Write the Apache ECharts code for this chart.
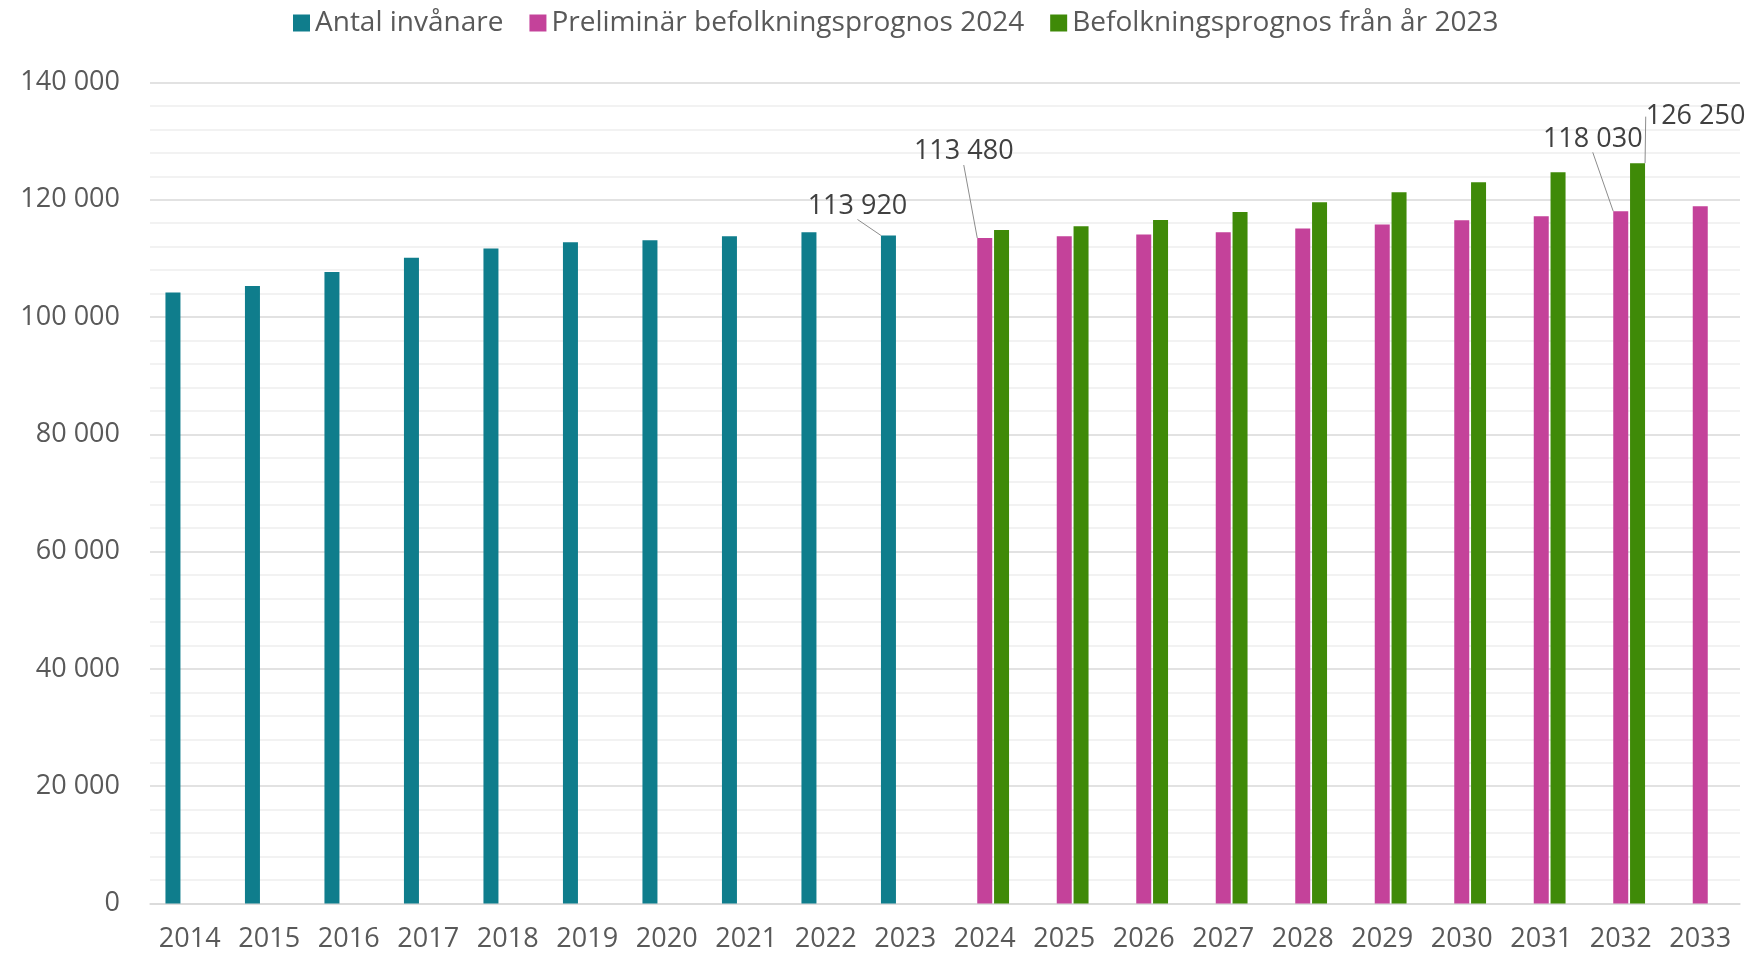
<!DOCTYPE html>
<html lang="sv">
<head>
<meta charset="utf-8">
<title>Befolkning</title>
<script src="https://cdn.jsdelivr.net/npm/echarts@6/dist/echarts.min.js"></script>
<style>
  html, body { margin: 0; padding: 0; background: #fff; }
  #chart { width: 1749px; height: 956px; }
</style>
</head>
<body>
<div id="chart"></div>
<script>
// Data
const years = ['2014', '2015', '2016', '2017', '2018', '2019', '2020', '2021', '2022', '2023',
  '2024', '2025', '2026', '2027', '2028', '2029', '2030', '2031', '2032', '2033'];
const antalInvanare = [104200, 105300, 107700, 110100, 111700, 112750, 113100, 113800, 114460, 113920,
  null, null, null, null, null, null, null, null, null, null];
const preliminar2024 = [null, null, null, null, null, null, null, null, null, null,
  113480, 113800, 114100, 114450, 115100, 115800, 116500, 117200, 118030, 118900];
const prognos2023 = [null, null, null, null, null, null, null, null, null, null,
  114850, 115500, 116550, 117900, 119600, 121300, 123000, 124700, 126250, null];
const seriesNames = ['Antal invånare', 'Preliminär befolkningsprognos 2024', 'Befolkningsprognos från år 2023'];
const yTicks = [0, 20000, 40000, 60000, 80000, 100000, 120000, 140000];

// vilka staplar som får en etikett, och hur den flyttas: [serie, index, dx, dy]
const etiketter = [
  [0, 9, -31, -11],
  [1, 10, -21, -68],
  [1, 18, -28, -54],
  [2, 18, 58, -28]
];

const FONT = '"Open Sans", "Noto Sans", sans-serif';
const farger = ['#0F7D8C', '#C4429A', '#3F8A08'];

function tusental(v) {
  return String(v).replace(/\B(?=(\d{3})+(?!\d))/g, ' ');
}

function medEtiketter(data, serie) {
  return data.map((v, i) => {
    const e = etiketter.find(x => x[0] === serie && x[1] === i);
    if (!e || v == null) return v;
    return { value: v, label: { show: true } };
  });
}

const chart = echarts.init(document.getElementById('chart'));

const serier = [antalInvanare, preliminar2024, prognos2023].map((d, s) => ({
  name: seriesNames[s],
  type: 'bar',
  data: medEtiketter(d, s),
  barWidth: 15,
  barGap: '12%',
  itemStyle: { color: farger[s] },
  label: {
    show: false,
    position: 'top',
    distance: 5,
    fontFamily: FONT,
    fontSize: 27,
    color: '#404040',
    formatter: p => tusental(p.value)
  },
  labelLine: { show: true, lineStyle: { color: '#8c8c8c', width: 1 } },
  labelLayout: p => {
    const e = etiketter.find(x => x[0] === s && x[1] === p.dataIndex);
    return e ? { dx: e[2], dy: e[3] } : {};
  },
  emphasis: { disabled: true }
}));

chart.setOption({
  animation: false,
  textStyle: { fontFamily: FONT },
  legend: {
    top: 4,
    left: 288,
    itemWidth: 17,
    itemHeight: 17,
    itemGap: 26,
    icon: 'rect',
    textStyle: { fontFamily: FONT, fontSize: 28, color: '#595959' },
    data: seriesNames
  },
  grid: { left: 150, right: 9, top: 82.5, bottom: 52.5, containLabel: false },
  xAxis: {
    type: 'category',
    data: years,
    axisLine: { lineStyle: { color: '#d9d9d9', width: 1.5 } },
    axisTick: { show: false },
    axisLabel: { interval: 0, fontFamily: FONT, fontSize: 27, color: '#595959', margin: 22 }
  },
  yAxis: {
    type: 'value',
    min: yTicks[0],
    max: yTicks[yTicks.length - 1],
    interval: yTicks[1] - yTicks[0],
    axisLine: { show: false },
    axisTick: { show: false },
    axisLabel: { fontFamily: FONT, fontSize: 27, color: '#595959', margin: 30, formatter: v => tusental(v) },
    splitLine: { show: true, lineStyle: { color: '#d9d9d9', width: 1.5 } },
    minorTick: { show: false, splitNumber: 5 },
    minorSplitLine: { show: true, lineStyle: { color: '#eeeeee', width: 1.5 } }
  },
  series: serier
});
</script>
</body>
</html>
